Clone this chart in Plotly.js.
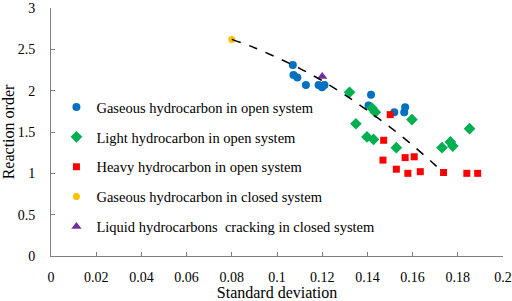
<!DOCTYPE html>
<html>
<head>
<meta charset="utf-8">
<script src="https://cdn.plot.ly/plotly-3.0.1.min.js"></script>
<style>html,body{margin:0;padding:0;background:#fff;}#chart{width:512px;height:301px;}</style>
</head>
<body>
<div id="chart"></div>
<script>
// Gaseous hydrocarbon in open system
const gasOpenX = [0.107, 0.1073, 0.109, 0.1128, 0.1184, 0.1199, 0.121, 0.1416, 0.1405, 0.1519, 0.1567, 0.1563];
const gasOpenY = [2.31, 2.19, 2.16, 2.07, 2.07, 2.04, 2.07, 1.95, 1.82, 1.74, 1.80, 1.74];
// Light hydrocarbon in open system
const lightOpenX = [0.1321, 0.1420, 0.1435, 0.1597, 0.1349, 0.1398, 0.1427, 0.1528, 0.1852, 0.1730, 0.1767, 0.1778];
const lightOpenY = [1.98, 1.79, 1.74, 1.65, 1.60, 1.44, 1.41, 1.31, 1.54, 1.31, 1.38, 1.33];
// Heavy hydrocarbon in open system
const heavyOpenX = [0.1501, 0.1472, 0.1469, 0.1567, 0.1607, 0.1528, 0.1579, 0.1634, 0.1737, 0.1840, 0.1888];
const heavyOpenY = [1.71, 1.40, 1.16, 1.19, 1.20, 1.05, 1.00, 1.02, 1.01, 1.00, 1.00];
// Gaseous hydrocarbon in closed system
const gasClosedX = [0.08];
const gasClosedY = [2.62];
// Liquid hydrocarbons cracking in closed system
const liquidClosedX = [0.120];
const liquidClosedY = [2.17];
// Dashed trend curve
const trendX = [0.08, 0.09, 0.10, 0.11, 0.12, 0.13, 0.14, 0.15, 0.16, 0.17, 0.174];
const trendY = [2.62, 2.52, 2.40, 2.27, 2.12, 1.95, 1.76, 1.56, 1.34, 1.10, 1.00];

const seriesNames = [
  "Gaseous hydrocarbon in open system",
  "Light hydrocarbon in open system",
  "Heavy hydrocarbon in open system",
  "Gaseous hydrocarbon in closed system",
  "Liquid hydrocarbons  cracking in closed system"
];
const xTickVals = [0, 0.02, 0.04, 0.06, 0.08, 0.1, 0.12, 0.14, 0.16, 0.18, 0.2];
const xTickText = ["0", "0.02", "0.04", "0.06", "0.08", "0.1", "0.12", "0.14", "0.16", "0.18", "0.2"];
const yTickVals = [0, 0.5, 1, 1.5, 2, 2.5, 3];
const yTickText = ["0", "0.5", "1", "1.5", "2", "2.5", "3"];

const FONT = "Liberation Serif";

const traces = [
  {x: gasOpenX, y: gasOpenY, name: seriesNames[0], legendgroup: "a", mode: "markers", type: "scatter",
   marker: {symbol: "circle", size: 8, color: "#0070C0"}},
  {x: lightOpenX, y: lightOpenY, name: seriesNames[1], legendgroup: "b", mode: "markers", type: "scatter",
   marker: {symbol: "diamond", size: 9, color: "#00B050"}},
  {x: heavyOpenX, y: heavyOpenY, name: seriesNames[2], legendgroup: "c", mode: "markers", type: "scatter",
   marker: {symbol: "square", size: 7, color: "#FF0000"}},
  {x: gasClosedX, y: gasClosedY, name: seriesNames[3], legendgroup: "d", mode: "markers", type: "scatter",
   marker: {symbol: "circle", size: 7, color: "#FFC000"}},
  {x: liquidClosedX, y: liquidClosedY, name: seriesNames[4], legendgroup: "e", mode: "markers", type: "scatter",
   marker: {symbol: "triangle-up", size: 9, color: "#7030A0"}},
  {x: trendX, y: trendY, mode: "lines", type: "scatter", showlegend: false, hoverinfo: "skip",
   line: {color: "#000000", width: 1.5, dash: "dash", shape: "spline"}}
];

const layout = {
  width: 512, height: 301,
  margin: {l: 51, r: 9, t: 8, b: 45, pad: 0},
  paper_bgcolor: "#ffffff", plot_bgcolor: "#ffffff",
  font: {family: FONT, size: 14, color: "#000"},
  showlegend: true,
  legend: {
    x: 0.012, y: 0.665, xanchor: "left", yanchor: "top",
    bgcolor: "rgba(0,0,0,0)", borderwidth: 0,
    font: {family: FONT, size: 14.5, color: "#000"},
    tracegroupgap: 8
  },
  xaxis: {
    range: [0, 0.2], tickmode: "array", tickvals: xTickVals, ticktext: xTickText,
    showgrid: false, zeroline: false, showline: true, linecolor: "#7f7f7f", linewidth: 1,
    ticks: "inside", ticklen: 4, tickcolor: "#7f7f7f", ticklabelstandoff: 8,
    ticklabeloverflow: "allow",
    tickfont: {family: FONT, size: 14, color: "#000"},
    title: {text: "Standard deviation", font: {family: FONT, size: 16, color: "#000"}, standoff: 6}
  },
  yaxis: {
    range: [0, 3], tickmode: "array", tickvals: yTickVals, ticktext: yTickText,
    showgrid: false, zeroline: false, showline: true, linecolor: "#7f7f7f", linewidth: 1,
    ticks: "inside", ticklen: 4, tickcolor: "#7f7f7f", ticklabelstandoff: 12,
    ticklabeloverflow: "allow",
    tickfont: {family: FONT, size: 14, color: "#000"},
    title: {text: "Reaction order", font: {family: FONT, size: 16, color: "#000"}, standoff: 8}
  }
};

Plotly.newPlot("chart", traces, layout, {displayModeBar: false, staticPlot: true});
</script>
</body>
</html>
